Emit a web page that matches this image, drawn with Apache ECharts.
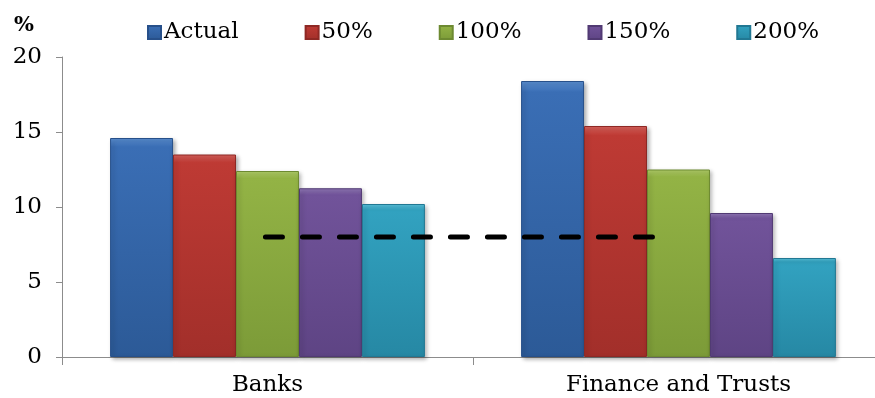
<!DOCTYPE html>
<html>
<head>
<meta charset="utf-8">
<script src="https://cdn.jsdelivr.net/npm/echarts@6/dist/echarts.min.js"></script>
<style>
  html, body { margin: 0; padding: 0; background: #fff; overflow: hidden; }
  /* the plot area runs a little past the right edge of the picture */
  #chart { width: 884px; height: 398px; }
</style>
</head>
<body>
<div id="chart"></div>
<script>
var categories = ["Banks", "Finance and Trusts"];
var seriesNames = ["Actual", "50%", "100%", "150%", "200%"];
var actual = [14.6, 18.4];
var pct50 = [13.5, 15.4];
var pct100 = [12.4, 12.5];
var pct150 = [11.25, 9.6];
var pct200 = [10.2, 6.6];
var yTicks = [0, 5, 10, 15, 20];
// dashed reference level, on a 0..2 helper axis spanning the two categories
var refLevel = 8;
var refSpan = [0.495, 1.465];

var values = [actual, pct50, pct100, pct150, pct200];
var colors = [
  ["#5a8fd2", "#3a6eb5", "#2c5a97", "#27508a"],
  ["#d9625c", "#be3a34", "#a22f2a", "#8e2824"],
  ["#b3d06a", "#93b345", "#7c9b38", "#6d8a31"],
  ["#9279b8", "#71539a", "#5e4484", "#513a73"],
  ["#5ac3dd", "#32a2c0", "#2688a4", "#217893"]
];

var chart = echarts.init(document.getElementById("chart"));
var font = "DejaVu Serif";

var series = [];
for (var i = 0; i < seriesNames.length; i++) {
  var c = colors[i];
  series.push({
    name: seriesNames[i],
    type: "bar",
    xAxisIndex: 0,
    barGap: "0%",
    barCategoryGap: "23.4%",
    itemStyle: {
      color: new echarts.graphic.LinearGradient(0, 0, 0, 1, [
        { offset: 0, color: c[0] },
        { offset: 0.04, color: c[1] },
        { offset: 1, color: c[2] }
      ]),
      borderColor: c[3],
      borderWidth: 1,
      shadowBlur: 4,
      shadowOffsetX: 2,
      shadowOffsetY: 2,
      shadowColor: "rgba(0,0,0,0.3)"
    },
    data: values[i]
  });
}
series.push({
  name: "ref",
  type: "line",
  xAxisIndex: 1,
  symbol: "none",
  silent: true,
  z: 5,
  lineStyle: { color: "#000", width: 5, type: [17, 20], cap: "round" },
  data: [[refSpan[0], refLevel], [refSpan[1], refLevel]]
});

var option = {
  animation: false,
  title: {
    text: "%",
    left: 9,
    top: 10,
    textStyle: { fontFamily: font, fontSize: 21, fontWeight: "bold", color: "#000" }
  },
  legend: {
    data: seriesNames,
    left: 142,
    top: 16,
    icon: "rect",
    itemWidth: 13,
    itemHeight: 13,
    itemGap: 66,
    textStyle: { fontFamily: font, fontSize: 23, color: "#000", padding: [0, 0, 0, -2] }
  },
  grid: { left: 62, right: 0, top: 57, bottom: 41, containLabel: false },
  xAxis: [
    {
      type: "category",
      data: categories,
      axisLine: { lineStyle: { color: "#8c8c8c", width: 1 } },
      axisTick: { show: true, length: 8, lineStyle: { color: "#8c8c8c" } },
      axisLabel: { fontFamily: font, fontSize: 23, color: "#000", margin: 17 }
    },
    { type: "value", min: 0, max: 2, show: false }
  ],
  yAxis: {
    type: "value",
    min: yTicks[0],
    max: yTicks[yTicks.length - 1],
    interval: 5,
    splitLine: { show: false },
    axisLine: { show: true, lineStyle: { color: "#8c8c8c", width: 1 } },
    axisTick: { show: true, length: 6, lineStyle: { color: "#8c8c8c" } },
    axisLabel: { fontFamily: font, fontSize: 23, color: "#000", margin: 20 }
  },
  series: series
};
chart.setOption(option);
</script>
</body>
</html>
